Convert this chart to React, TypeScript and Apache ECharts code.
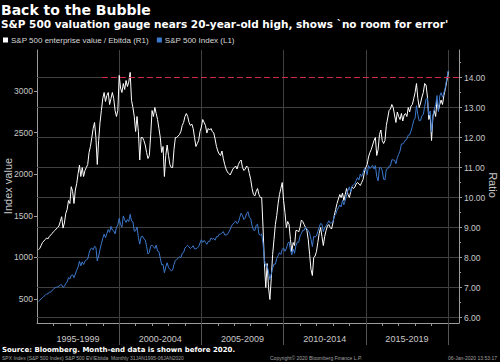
import { useEffect, useRef } from "react";
import * as echarts from "echarts";

// ---- time frame ----
const START_YEAR = 1995; // first point = end of Jan 1995
const X_MIN = 1995;
const X_MAX = 2020.67;
const LAST_POINT_TIME = 2020 + 6 / 366; // 06-Jan-2020

// ---- S&P 500 Index (L1), month-end ----
const SPX_1995_1999 = [
  470, 487, 501, 515, 533, 545, 562, 562, 584, 582, 605, 616,
  636, 640, 646, 654, 669, 671, 640, 652, 687, 705, 757, 741,
  786, 791, 757, 801, 848, 885, 954, 899, 947, 915, 955, 970,
  980, 1049, 1102, 1112, 1091, 1134, 1121, 957, 1017, 1099, 1164, 1229,
  1280, 1238, 1286, 1335, 1302, 1373, 1329, 1320, 1283, 1363, 1389, 1469,
];
const SPX_2000_2004 = [
  1394, 1366, 1499, 1452, 1421, 1455, 1431, 1518, 1437, 1429, 1315, 1320,
  1366, 1240, 1160, 1249, 1256, 1224, 1211, 1134, 1041, 1060, 1139, 1148,
  1130, 1107, 1147, 1077, 1067, 990, 912, 916, 815, 886, 936, 880,
  856, 841, 848, 917, 964, 975, 990, 1008, 996, 1051, 1058, 1112,
  1131, 1145, 1126, 1107, 1121, 1141, 1102, 1104, 1115, 1130, 1174, 1212,
];
const SPX_2005_2009 = [
  1181, 1204, 1181, 1157, 1192, 1191, 1234, 1220, 1229, 1207, 1249, 1248,
  1280, 1281, 1295, 1311, 1270, 1270, 1277, 1304, 1336, 1378, 1401, 1418,
  1438, 1407, 1421, 1482, 1531, 1503, 1455, 1474, 1527, 1549, 1481, 1468,
  1379, 1331, 1323, 1386, 1400, 1280, 1267, 1283, 1166, 969, 896, 903,
  826, 735, 798, 873, 919, 919, 987, 1021, 1057, 1036, 1096, 1115,
];
const SPX_2010_2014 = [
  1074, 1104, 1169, 1187, 1089, 1031, 1102, 1049, 1141, 1183, 1181, 1258,
  1286, 1327, 1326, 1364, 1345, 1321, 1292, 1219, 1131, 1253, 1247, 1258,
  1312, 1366, 1408, 1398, 1310, 1362, 1379, 1407, 1441, 1412, 1416, 1426,
  1498, 1515, 1569, 1598, 1631, 1606, 1686, 1633, 1682, 1757, 1806, 1848,
  1783, 1859, 1872, 1884, 1924, 1960, 1931, 2003, 1972, 2018, 2068, 2059,
];
const SPX_2015_2019 = [
  1995, 2105, 2068, 2086, 2107, 2063, 2104, 1972, 1920, 2079, 2080, 2044,
  1940, 1932, 2060, 2065, 2097, 2099, 2174, 2171, 2168, 2126, 2199, 2239,
  2279, 2364, 2363, 2384, 2412, 2423, 2470, 2472, 2519, 2575, 2648, 2674,
  2824, 2714, 2641, 2648, 2705, 2718, 2816, 2902, 2914, 2712, 2760, 2507,
  2704, 2784, 2834, 2946, 2752, 2942, 2980, 2926, 2977, 3038, 3141, 3231,
];
const SPX_JAN_2020 = 3246;

// ---- S&P 500 enterprise value / Ebitda (R1), month-end ----
const EV_1995_1999 = [
  8.26, 8.3, 8.4, 8.5, 8.55, 8.6, 8.65, 8.62, 8.7, 8.75, 8.8, 8.86,
  8.9, 8.95, 9.0, 9.05, 9.2, 9.36, 8.98, 9.15, 9.47, 9.6, 9.9, 9.8,
  10.36, 10.2, 9.8, 10.25, 10.47, 10.8, 11.08, 10.7, 11.0, 10.7, 10.9, 11.0,
  11.1, 11.5, 11.7, 12.0, 12.3, 12.5, 12.0, 11.1, 11.9, 12.5, 12.9, 13.3,
  13.5, 13.2, 13.4, 13.5, 13.1, 13.3, 13.5, 13.3, 12.9, 12.7, 12.9, 14.07,
];
const EV_2000_2004 = [
  13.65, 13.5, 13.8, 13.6, 13.9, 13.7, 13.85, 14.17, 13.24, 13.0, 12.7, 12.2,
  12.7, 12.2, 11.25, 12.0, 12.0, 11.9, 11.75, 11.5, 11.3, 11.4, 12.1, 12.9,
  12.7, 13.0, 12.8, 12.6, 12.3, 12.0, 11.5, 11.7, 10.7, 11.4, 11.75, 11.4,
  11.1, 11.0, 11.0, 11.6, 12.0, 12.0, 12.05, 12.1, 12.2, 12.4, 12.5, 12.7,
  12.8, 12.7, 12.5, 12.4, 12.45, 12.3, 12.0, 11.7, 11.8, 11.9, 12.2, 12.35,
];
const EV_2005_2009 = [
  12.6, 12.5, 12.4, 12.15, 12.3, 12.25, 12.3, 12.2, 12.15, 11.95, 11.7, 11.55,
  11.45, 11.4, 11.55, 11.3, 11.1, 10.95, 10.85, 10.8, 10.75, 10.85, 10.95, 11.0,
  11.05, 10.95, 11.1, 11.2, 11.25, 11.0, 10.9, 10.95, 11.05, 11.0, 10.8, 10.6,
  10.3, 10.1, 10.05, 10.2, 10.3, 10.1, 10.0, 10.0, 9.0, 7.8, 7.0, 7.8,
  7.0, 6.6, 7.3, 8.1, 8.6, 9.1, 9.4, 9.8, 10.1, 10.3, 10.5, 9.9,
];
const EV_2010_2014 = [
  9.5, 9.0, 9.2, 9.1, 8.6, 8.2, 8.5, 8.4, 8.9, 8.9, 8.85, 9.0,
  9.25, 9.2, 9.1, 9.0, 8.9, 8.6, 8.1, 7.6, 7.4, 8.0, 8.05, 8.2,
  8.5, 8.8, 9.0, 8.7, 8.4, 8.7, 8.9, 9.05, 9.1, 9.0, 8.95, 9.15,
  9.4, 9.6, 9.8, 9.95, 10.1, 10.0, 10.15, 9.9, 10.1, 10.3, 10.1, 10.0,
  10.2, 10.35, 10.3, 10.35, 10.45, 10.5, 10.45, 10.4, 10.5, 10.6, 10.85, 11.0,
];
const EV_2015_2019 = [
  11.1, 11.35, 11.5, 11.6, 11.75, 11.9, 12.0, 11.4, 11.6, 12.1, 12.25, 11.9,
  11.8, 11.9, 12.4, 12.65, 12.9, 12.95, 13.1, 13.0, 12.75, 12.5, 12.85, 12.7,
  12.6, 12.8, 12.55, 12.75, 12.8, 12.7, 13.0, 12.85, 13.05, 13.1, 13.3, 13.5,
  13.8, 13.3, 13.0, 13.15, 13.35, 13.5, 13.8, 13.75, 13.35, 12.6, 12.75, 11.9,
  12.7, 12.9, 12.7, 13.25, 12.9, 13.1, 13.25, 13.1, 13.4, 13.6, 13.85, 14.1,
];
const EV_JAN_2020 = 14.2;

// ---- reference level (20-year-old high) ----
const REF_LEVEL = 14;
const REF_FROM = 1998.95;

// ---- axes ----
const INDEX_MIN = 212;
const INDEX_MAX = 3493;
const INDEX_TICKS = [500, 1000, 1500, 2000, 2500, 3000];
const RATIO_MIN = 5.8167;
const RATIO_MAX = 14.9167;
const RATIO_TICKS = [6, 7, 8, 9, 10, 11, 12, 13, 14];
const RATIO_HALF_TICKS = [6.5, 7.5, 8.5, 9.5, 10.5, 11.5, 12.5, 13.5, 14.5];
const PERIOD_SEPARATORS = [2000, 2005, 2010, 2015, 2020];
const PERIOD_CENTERS = [1997.5, 2002.5, 2007.5, 2012.5, 2017.5];
const PERIOD_LABELS = ["1995-1999", "2000-2004", "2005-2009", "2010-2014", "2015-2019"];
const YEAR_TICKS = [
  1996, 1997, 1998, 1999, 2001, 2002, 2003, 2004, 2006, 2007, 2008, 2009,
  2011, 2012, 2013, 2014, 2016, 2017, 2018, 2019,
];

// ---- texts ----
const TITLE = "Back to the Bubble";
const SUBTITLE = "S&P 500 valuation gauge nears 20-year-old high, shows `no room for error'";
const EV_NAME = "S&P 500 enterprise value / Ebitda (R1)";
const SPX_NAME = "S&P 500 Index (L1)";
const LEFT_AXIS_NAME = "Index value";
const RIGHT_AXIS_NAME = "Ratio";
const SOURCE = "Source: Bloomberg. Month-end data is shown before 2020.";
const FOOT_LEFT = "SPX Index (S&P 500 Index) S&P 500 EV/Ebitda  Monthly 31JAN1995-06JAN2020";
const FOOT_MID = "Copyright\u00A9 2020 Bloomberg Finance L.P.";
const FOOT_RIGHT = "06-Jan-2020 13:53:17";

const SPX = [...SPX_1995_1999, ...SPX_2000_2004, ...SPX_2005_2009, ...SPX_2010_2014, ...SPX_2015_2019];
const EV = [...EV_1995_1999, ...EV_2000_2004, ...EV_2005_2009, ...EV_2010_2014, ...EV_2015_2019];

const monthTime = (i: number) => START_YEAR + (i + 1) / 12;

const spxData = SPX.map((v, i) => [monthTime(i), v]).concat([[LAST_POINT_TIME, SPX_JAN_2020]]);
const evData = EV.map((v, i) => [monthTime(i), v]).concat([[LAST_POINT_TIME, EV_JAN_2020]]);

// horizontal grid lines at every right-axis tick (the reference level takes over from REF_FROM)
const gridData: any[] = [];
RATIO_TICKS.forEach((v) => {
  const end = v === REF_LEVEL ? REF_FROM : X_MAX;
  gridData.push([X_MIN, v], [end, v], [end, "-"]);
});
const refData = [
  [REF_FROM, REF_LEVEL],
  [X_MAX, REF_LEVEL],
];

const WHITE = "#ffffff";
const BLUE = "#3b78cc";
const RED = "#d02a48";
const LABEL = "#c8c8c8";
const AXIS = "#9a9a9a";
const GRID = "#404040";
const SANS = "'Liberation Sans', Arial, sans-serif";
const BOLD = "'DejaVu Sans', Verdana, sans-serif";

const plainLine = {
  type: "line",
  showSymbol: false,
  symbol: "none",
  silent: true,
  emphasis: { disabled: true },
  connectNulls: false,
};

function buildOption() {
  return {
    animation: false,
    backgroundColor: "#000000",
    textStyle: { fontFamily: SANS },
    grid: { left: 37, right: 41, top: 50, bottom: 39, containLabel: false },
    legend: {
      left: 3,
      top: 36,
      padding: 0,
      itemGap: 8,
      itemWidth: 5,
      itemHeight: 5,
      icon: "rect",
      selectedMode: false,
      data: [EV_NAME, SPX_NAME],
      textStyle: { color: "#d8d8d8", fontSize: 8, fontFamily: SANS, padding: [0, 0, 0, -2] },
    },
    graphic: {
      elements: [
        {
          type: "text", x: 1, y: 10, silent: true,
          style: { text: TITLE, fill: "#ffffff", font: `bold 14px ${BOLD}`, verticalAlign: "middle", align: "left" },
        },
        {
          type: "text", x: 1, y: 24, silent: true,
          style: { text: SUBTITLE, fill: "#ffffff", font: `bold 10.5px ${BOLD}`, verticalAlign: "middle", align: "left" },
        },
        {
          type: "text", x: 8, y: 186, rotation: Math.PI / 2, silent: true,
          style: { text: LEFT_AXIS_NAME, fill: LABEL, font: `11px ${SANS}`, verticalAlign: "middle", align: "center" },
        },
        {
          type: "text", x: 493, y: 185, rotation: -Math.PI / 2, silent: true,
          style: { text: RIGHT_AXIS_NAME, fill: LABEL, font: `11px ${SANS}`, verticalAlign: "middle", align: "center" },
        },
        {
          type: "text", x: 2, y: 350, silent: true,
          style: { text: SOURCE, fill: "#ffffff", font: `bold 7px ${BOLD}`, verticalAlign: "middle", align: "left" },
        },
        {
          type: "text", x: 2, y: 358, silent: true,
          style: { text: FOOT_LEFT, fill: "#a0a0a0", font: `5px ${SANS}`, verticalAlign: "middle", align: "left" },
        },
        {
          type: "text", x: 270, y: 358, silent: true,
          style: { text: FOOT_MID, fill: "#a0a0a0", font: `5px ${SANS}`, verticalAlign: "middle", align: "left" },
        },
        {
          type: "text", x: 497, y: 358, silent: true,
          style: { text: FOOT_RIGHT, fill: "#a0a0a0", font: `5px ${SANS}`, verticalAlign: "middle", align: "right" },
        },
      ],
    },
    xAxis: [
      {
        type: "value",
        min: X_MIN,
        max: X_MAX,
        interval: 5,
        position: "bottom",
        axisLine: { show: true, lineStyle: { color: AXIS, width: 1 } },
        axisTick: { show: true, customValues: PERIOD_SEPARATORS, length: 22, lineStyle: { color: "#555555" } },
        minorTick: { show: false },
        axisLabel: {
          customValues: PERIOD_CENTERS,
          formatter: (v: number) => {
            const k = PERIOD_CENTERS.findIndex((c) => Math.abs(c - v) < 0.01);
            return k >= 0 ? PERIOD_LABELS[k] : "";
          },
          color: LABEL,
          fontSize: 9,
          margin: 11,
          fontFamily: SANS,
        },
        splitLine: { show: true, lineStyle: { color: GRID, width: 1 } },
      },
      {
        type: "value",
        min: X_MIN,
        max: X_MAX,
        position: "bottom",
        axisLine: { show: false },
        axisTick: { show: true, customValues: YEAR_TICKS, length: 3, lineStyle: { color: AXIS } },
        axisLabel: { show: false },
        splitLine: { show: false },
      },
    ],
    yAxis: [
      {
        type: "value",
        position: "left",
        min: INDEX_MIN,
        max: INDEX_MAX,
        axisLine: { show: true, lineStyle: { color: AXIS, width: 1 } },
        axisTick: { show: true, customValues: INDEX_TICKS, length: 3, lineStyle: { color: AXIS } },
        axisLabel: {
          customValues: INDEX_TICKS,
          formatter: (v: number) => String(v),
          color: LABEL,
          fontSize: 8.5,
          margin: 4,
          fontFamily: SANS,
        },
        splitLine: { show: false },
      },
      {
        type: "value",
        position: "right",
        min: RATIO_MIN,
        max: RATIO_MAX,
        axisLine: { show: true, lineStyle: { color: AXIS, width: 1 } },
        axisTick: { show: true, customValues: RATIO_TICKS, length: 3, lineStyle: { color: AXIS } },
        axisLabel: {
          customValues: RATIO_TICKS,
          formatter: (v: number) => v.toFixed(2),
          color: LABEL,
          fontSize: 8.5,
          margin: 5,
          fontFamily: SANS,
        },
        splitLine: { show: false },
      },
      {
        type: "value",
        position: "right",
        min: RATIO_MIN,
        max: RATIO_MAX,
        axisLine: { show: false },
        axisTick: { show: true, customValues: RATIO_HALF_TICKS, length: 2, lineStyle: { color: AXIS } },
        axisLabel: { show: false },
        splitLine: { show: false },
      },
    ],
    series: [
      {
        ...plainLine,
        name: "grid",
        xAxisIndex: 0,
        yAxisIndex: 1,
        data: gridData,
        color: GRID,
        itemStyle: { color: GRID },
        lineStyle: { color: GRID, width: 1 },
        z: 1,
      },
      {
        ...plainLine,
        name: EV_NAME,
        xAxisIndex: 0,
        yAxisIndex: 1,
        data: evData,
        color: WHITE,
        itemStyle: { color: WHITE },
        lineStyle: { color: WHITE, width: 1 },
        z: 3,
      },
      {
        ...plainLine,
        name: SPX_NAME,
        xAxisIndex: 0,
        yAxisIndex: 0,
        data: spxData,
        color: BLUE,
        itemStyle: { color: BLUE },
        lineStyle: { color: BLUE, width: 1 },
        z: 3,
      },
      {
        ...plainLine,
        name: "reference",
        xAxisIndex: 0,
        yAxisIndex: 1,
        data: refData,
        color: RED,
        itemStyle: { color: RED },
        lineStyle: { color: RED, width: 1.2, type: [6, 3] },
        z: 4,
      },
    ],
  };
}

export default function App() {
  const ref = useRef<HTMLDivElement>(null);
  useEffect(() => {
    if (!ref.current) return;
    const chart = echarts.init(ref.current, undefined, { renderer: "svg" });
    chart.setOption(buildOption() as any);
    return () => chart.dispose();
  }, []);
  return (
    <div
      ref={ref}
      style={{ position: "absolute", left: 0, top: 0, width: 500, height: 362, background: "#000" }}
    />
  );
}
